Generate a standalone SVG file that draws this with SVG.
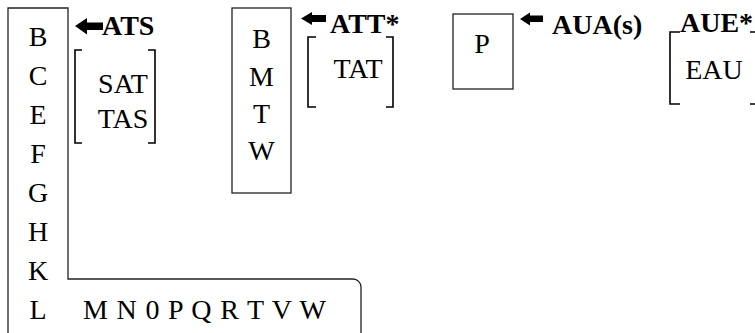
<svg xmlns="http://www.w3.org/2000/svg" width="755" height="333" viewBox="0 0 755 333" font-family="Liberation Serif, Times New Roman, DejaVu Serif, serif" font-size="28">
<style>
.b{font-weight:bold}
.m{text-anchor:middle}
.box{fill:none;stroke:#222;stroke-width:1.3}
.br{fill:none;stroke:#000;stroke-width:1.6}
.ar{fill:#000}
</style>
<rect width="755" height="333" fill="#fff"/>
<g id="node-main">
<path class="box" d="M8,333 V8 H68 V279 H353 A8,8 0 0 1 361,287 V333"/>
<text class="m" x="38" y="46">B</text>
<text class="m" x="38" y="85">C</text>
<text class="m" x="38" y="124">E</text>
<text class="m" x="38" y="163">F</text>
<text class="m" x="38" y="202">G</text>
<text class="m" x="38" y="241">H</text>
<text class="m" x="38" y="280">K</text>
<text class="m" x="38" y="319">L</text>
<text x="83" y="319" textLength="243" lengthAdjust="spacing">M N 0 P Q R T V W</text>
</g>
<g id="node-ats">
<text class="b" x="102" y="35">ATS</text>
<path class="br" d="M82,50 H75 V143 H82 M148,50 H155 V143 H148"/>
<text class="m" x="123" y="93">SAT</text>
<text class="m" x="123" y="128">TAS</text>
</g>
<g id="node-bmtw">
<rect class="box" x="232" y="8" width="59" height="185"/>
<text class="m" x="261.5" y="48">B</text>
<text class="m" x="261.5" y="86">M</text>
<text class="m" x="261.5" y="123">T</text>
<text class="m" x="261.5" y="160">W</text>
</g>
<g id="node-att">
<text class="b" x="330" y="33">ATT*</text>
<path class="br" d="M316,37 H308 V107 H316 M386,37 H393 V107 H386"/>
<text class="m" x="358" y="78">TAT</text>
</g>
<g id="node-p">
<rect class="box" x="453" y="14" width="60" height="75"/>
<text class="m" x="482" y="53">P</text>
</g>
<g id="node-aua">
<text class="b" x="552" y="34">AUA(s)</text>
</g>
<g id="node-aue">
<text class="b" x="680" y="32">AUE*</text>
<path class="br" d="M680,32 H670 V104 H680 M750,32 H756 M750,104 H756"/>
<text class="m" x="714" y="79">EAU</text>
</g>
<g id="connectors">
<polygon class="ar" points="75,26 87,18 87,22.5 103,22.5 103,30 87,30 87,34.5"/>
<polygon class="ar" points="301,18.5 312,12 312,15 326,15 326,22 312,22 312,25"/>
<polygon class="ar" points="520,19 530,12.5 530,15.5 543,15.5 543,22 530,22 530,25.5"/>
</g>
</svg>
